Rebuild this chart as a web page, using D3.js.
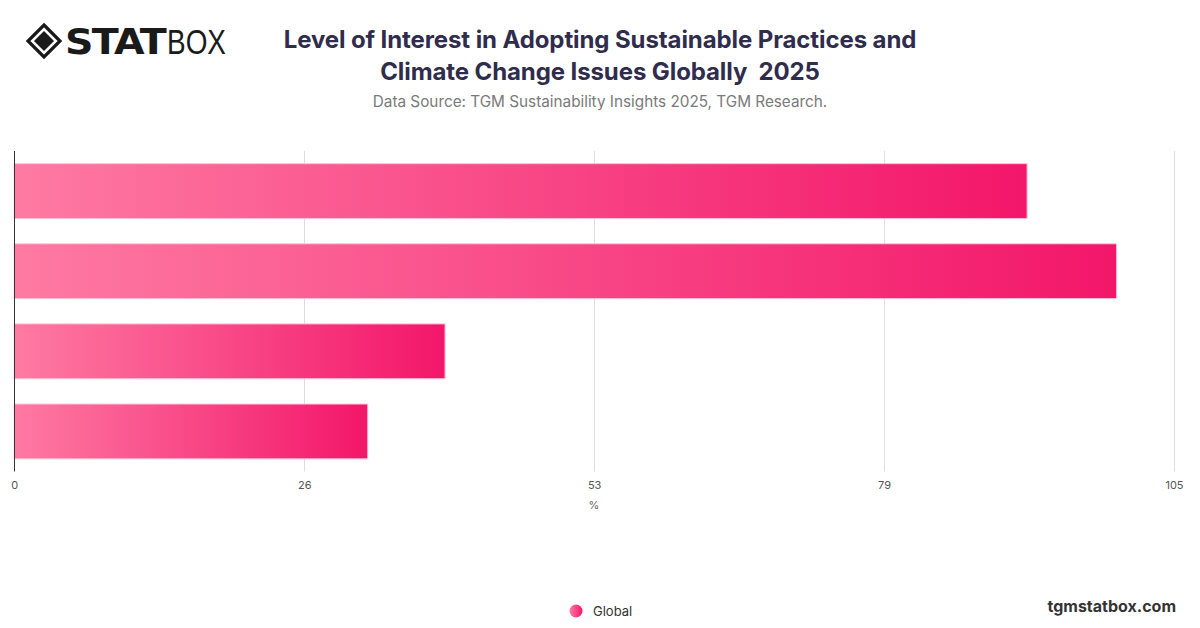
<!DOCTYPE html>
<html>
<head>
<meta charset="utf-8">
<script src="https://cdn.jsdelivr.net/npm/d3@7"></script>
<style>
  html, body { margin: 0; padding: 0; background: #fff; }
  svg { display: block; font-family: Inter, "Noto Sans", "Liberation Sans", sans-serif; }
  .pre { white-space: pre; }
</style>
</head>
<body>
<svg id="chart" width="1200" height="628"></svg>
<script>
// ---- data ----
const categories = ["Category A", "Category B", "Category C", "Category D"];
const values = [91.7, 99.8, 39, 32];
const tickValues = [0, 26.25, 52.5, 78.75, 105];
const tickLabels = ["0", "26", "53", "79", "105"];
const seriesName = "Global";
const titleLines = ["Level of Interest in Adopting Sustainable Practices and", "Climate Change Issues Globally  2025"];
const subtitle = "Data Source: TGM Sustainability Insights 2025, TGM Research.";

const svg = d3.select("#chart");
const plot = { left: 14.3, right: 1174, top: 151, bottom: 471.5 };

const x = d3.scaleLinear().domain([0, 105]).range([plot.left, plot.right]);
const y = d3.scaleBand().domain(categories).range([plot.top, plot.bottom])
  .paddingInner(0.316).paddingOuter(0.158);

// gradients
const defs = svg.append("defs");
const grad = defs.append("linearGradient").attr("id", "barGrad")
  .attr("x1", "0%").attr("x2", "100%").attr("y1", "0%").attr("y2", "0%");
grad.append("stop").attr("offset", "0%").attr("stop-color", "#fe7aa3");
grad.append("stop").attr("offset", "100%").attr("stop-color", "#f3166a");
const lg = defs.append("linearGradient").attr("id", "legGrad")
  .attr("x1", "0%").attr("x2", "100%").attr("y1", "0%").attr("y2", "0%");
lg.append("stop").attr("offset", "0%").attr("stop-color", "#fe7aa3");
lg.append("stop").attr("offset", "100%").attr("stop-color", "#f3166a");

// logo
const logo = svg.append("g").attr("transform", "translate(27,24)");
logo.append("path")
  .attr("d", "M17,1 L33,17 L17,33 L1,17 Z")
  .attr("fill", "none").attr("stroke", "#1a1a1a").attr("stroke-width", 3.2);
logo.append("path")
  .attr("d", "M17,7 L27,17 L17,27 L7,17 Z")
  .attr("fill", "#1a1a1a");
logo.append("text").attr("x", 38).attr("y", 30)
  .attr("font-family", "'DejaVu Sans', sans-serif").attr("font-weight", 900)
  .attr("font-size", 35).attr("letter-spacing", -1.5).attr("fill", "#1a1a1a")
  .attr("textLength", 100).attr("lengthAdjust", "spacingAndGlyphs")
  .text("STAT");
logo.append("text").attr("x", 140).attr("y", 30)
  .attr("font-family", "'Liberation Sans', sans-serif").attr("font-weight", 300)
  .attr("font-size", 35).attr("fill", "#1a1a1a")
  .attr("textLength", 59).attr("lengthAdjust", "spacingAndGlyphs")
  .text("BOX");

// title
svg.append("g").selectAll("text").data(titleLines).join("text")
  .attr("class", "pre")
  .attr("x", 600).attr("y", (d, i) => 48 + i * 32)
  .attr("text-anchor", "middle").attr("font-size", 24).attr("font-weight", 700)
  .attr("fill", "#2f2c4c").attr("letter-spacing", -0.1)
  .text(d => d);
svg.append("text").attr("x", 600).attr("y", 107)
  .attr("text-anchor", "middle").attr("font-size", 15.3).attr("fill", "#7a7a7a")
  .text(subtitle);

// grid lines
svg.append("g").selectAll("line").data(tickValues.slice(1)).join("line")
  .attr("x1", d => Math.round(x(d)) + 0.5).attr("x2", d => Math.round(x(d)) + 0.5)
  .attr("y1", plot.top).attr("y2", plot.bottom)
  .attr("stroke", "#dedede").attr("stroke-width", 1);

// bars
svg.append("g").selectAll("rect").data(values).join("rect")
  .attr("x", x(0))
  .attr("y", (d, i) => y(categories[i]))
  .attr("width", d => x(d) - x(0))
  .attr("height", y.bandwidth())
  .attr("fill", "url(#barGrad)")
  .attr("stroke", "#ffc2d8").attr("stroke-width", 1);

// y axis line
svg.append("line")
  .attr("x1", 14.5).attr("x2", 14.5).attr("y1", plot.top).attr("y2", plot.bottom)
  .attr("stroke", "#333").attr("stroke-width", 1);

// x axis labels
const xAxis = d3.axisBottom(x).tickValues(tickValues)
  .tickFormat((d, i) => tickLabels[i]).tickSize(0).tickPadding(10);
const ax = svg.append("g").attr("transform", `translate(0,${plot.bottom})`).call(xAxis);
ax.select(".domain").remove();
ax.selectAll("text").attr("font-size", 11).attr("fill", "#555")
  .attr("font-family", "Inter, 'Noto Sans', sans-serif");
svg.append("text").attr("x", 594).attr("y", 509).attr("text-anchor", "middle")
  .attr("font-size", 11).attr("fill", "#666").text("%");

// legend
svg.append("circle").attr("cx", 576).attr("cy", 611).attr("r", 6.5).attr("fill", "url(#legGrad)");
svg.append("text").attr("x", 593).attr("y", 615.5).attr("font-size", 13)
  .attr("fill", "#333").text(seriesName);

// watermark
svg.append("text").attr("x", 1176).attr("y", 612).attr("text-anchor", "end")
  .attr("font-size", 16).attr("font-weight", 700).attr("fill", "#333")
  .text("tgmstatbox.com");
</script>
</body>
</html>
